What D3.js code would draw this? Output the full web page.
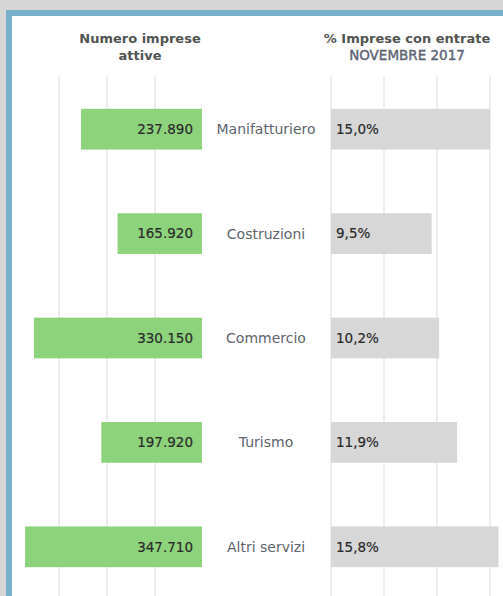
<!DOCTYPE html>
<html>
<head>
<meta charset="utf-8">
<script src="https://cdn.jsdelivr.net/npm/d3@7"></script>
<style>
  body { margin: 0; background: #d6d6d6; overflow: hidden; }
  svg { display: block; }
  text { font-family: "DejaVu Sans", sans-serif; }
</style>
</head>
<body>
<script>
"use strict";
// data
var sectors = ["Manifatturiero", "Costruzioni", "Commercio", "Turismo", "Altri servizi"];
var activeFirms = [237890, 165920, 330150, 197920, 347710];
var hiringShare = [15.0, 9.5, 10.2, 11.9, 15.8];
var leftGrid = [92000, 187000, 281000];
var rightGrid = [0, 5, 10, 15];

(function () {
  var width = 503, height = 596;

  var svg = d3.select("body").append("svg")
    .attr("width", width)
    .attr("height", height);

  // frame: grey page, blue border, white panel
  svg.append("rect").attr("width", width).attr("height", height).attr("fill", "#d6d6d6");
  svg.append("rect").attr("x", 6).attr("y", 10).attr("width", width).attr("height", height).attr("fill", "#79afc9");
  svg.append("rect").attr("x", 12).attr("y", 16).attr("width", width).attr("height", height).attr("fill", "#ffffff");

  var y = d3.scaleBand().domain(sectors).range([77, 599]).paddingInner(0.61).paddingOuter(0.305);
  var xL = d3.scaleLinear().domain([0, 397000]).range([202, 0]);
  var xR = d3.scaleLinear().domain([0, 10]).range([331, 437]);

  var data = sectors.map(function (s, i) {
    return { name: s, firms: activeFirms[i], share: hiringShare[i] };
  });

  // gridlines
  var grid = svg.append("g").attr("stroke", "#e8e8e8").attr("stroke-width", 1.5);
  grid.selectAll(".gl").data(leftGrid).enter().append("line")
    .attr("x1", function (d) { return xL(d); }).attr("x2", function (d) { return xL(d); })
    .attr("y1", 76).attr("y2", height);
  grid.selectAll(".gr").data(rightGrid).enter().append("line")
    .attr("x1", function (d) { return xR(d); }).attr("x2", function (d) { return xR(d); })
    .attr("y1", 76).attr("y2", height);

  // headers
  var hdr = svg.append("g").attr("text-anchor", "middle").attr("font-size", 13);
  hdr.append("text").attr("x", 140).attr("y", 43).attr("font-weight", "bold").attr("fill", "#515552").text("Numero imprese");
  hdr.append("text").attr("x", 140).attr("y", 60).attr("font-weight", "bold").attr("fill", "#515552").text("attive");
  hdr.append("text").attr("x", 407).attr("y", 43).attr("font-weight", "bold").attr("fill", "#515552").text("% Imprese con entrate");
  hdr.append("text").attr("x", 407).attr("y", 60).attr("font-size", 13.5)
    .attr("fill", "#5b6475").attr("stroke", "#5b6475").attr("stroke-width", 0.4).text("NOVEMBRE 2017");

  var rows = svg.selectAll(".row").data(data).enter().append("g").attr("class", "row");

  rows.append("rect")
    .attr("x", function (d) { return xL(d.firms); })
    .attr("y", function (d) { return y(d.name); })
    .attr("width", function (d) { return xL(0) - xL(d.firms); })
    .attr("height", y.bandwidth())
    .attr("fill", "#8dd37c");

  rows.append("rect")
    .attr("x", xR(0))
    .attr("y", function (d) { return y(d.name); })
    .attr("width", function (d) { return xR(d.share) - xR(0); })
    .attr("height", y.bandwidth())
    .attr("fill", "#d7d7d7");

  var fmtNum = function (v) { return d3.format(",")(v).replace(/,/g, "."); };
  var fmtPct = function (v) { return v.toFixed(1).replace(".", ",") + "%"; };

  rows.append("text")
    .attr("x", xL(0) - 9)
    .attr("y", function (d) { return y(d.name) + y.bandwidth() / 2; })
    .attr("dy", "0.35em")
    .attr("text-anchor", "end")
    .attr("font-size", 13.5)
    .attr("fill", "#2b2b2b").attr("stroke", "#2b2b2b").attr("stroke-width", 0.2)
    .text(function (d) { return fmtNum(d.firms); });

  rows.append("text")
    .attr("x", 266)
    .attr("y", function (d) { return y(d.name) + y.bandwidth() / 2; })
    .attr("dy", "0.35em")
    .attr("text-anchor", "middle")
    .attr("font-size", 14)
    .attr("fill", "#5e646c")
    .text(function (d) { return d.name; });

  rows.append("text")
    .attr("x", xR(0) + 5)
    .attr("y", function (d) { return y(d.name) + y.bandwidth() / 2; })
    .attr("dy", "0.35em")
    .attr("font-size", 13.5)
    .attr("fill", "#2b2b2b").attr("stroke", "#2b2b2b").attr("stroke-width", 0.2)
    .text(function (d) { return fmtPct(d.share); });
})();
</script>
</body>
</html>
